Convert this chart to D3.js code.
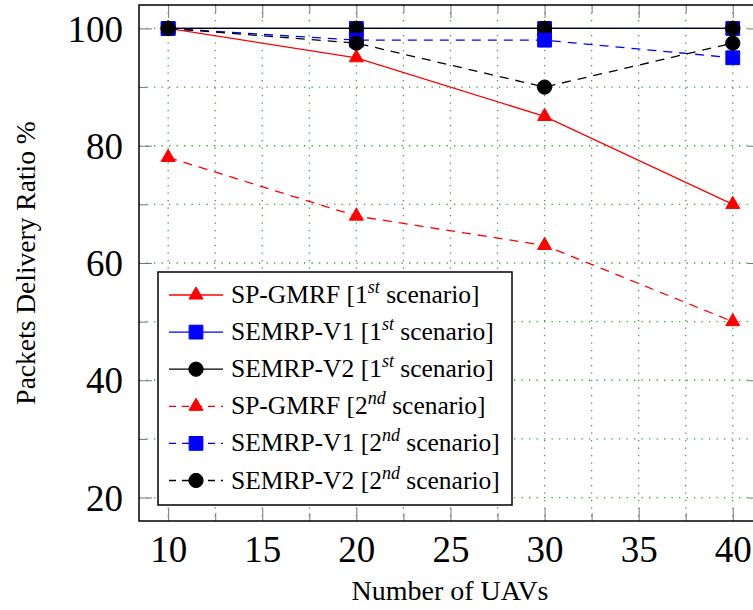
<!DOCTYPE html>
<html>
<head>
<meta charset="utf-8">
<script src="https://cdnjs.cloudflare.com/ajax/libs/d3/7.8.5/d3.min.js"></script>
<style>
  body { margin: 0; background: #fff; }
</style>
</head>
<body>
<div id="chart"></div>
<script>
// data
var uavs = [10, 20, 30, 40];
var spGmrf1 = [100, 95, 85, 70];
var semrpV1a = [100, 100, 100, 100];
var semrpV2a = [100, 100, 100, 100];
var spGmrf2 = [78, 68, 63, 50];
var semrpV1b = [100, 98, 98, 95];
var semrpV2b = [100, 97.5, 90, 97.5];

var seriesNames = ['SP-GMRF', 'SEMRP-V1', 'SEMRP-V2', 'SP-GMRF', 'SEMRP-V1', 'SEMRP-V2'];
var seriesScen = ['1', '1', '1', '2', '2', '2'];
var seriesSup = ['st', 'st', 'st', 'nd', 'nd', 'nd'];

var xTicks = [10, 15, 20, 25, 30, 35, 40];
var xMinor = [12.5, 17.5, 22.5, 27.5, 32.5, 37.5];
var yTicks = [20, 40, 60, 80, 100];
var yMinor = [30, 50, 70, 90];

(function(){
  var W = 753, H = 610;
  var pLeft = 139, pRight = 761, pTop = 5, pBottom = 521;
  var FONT = 'Liberation Serif';

  var svg = d3.select('#chart').append('svg')
              .attr('width', W)
              .attr('height', H)
              .attr('font-family', FONT);

  var x = d3.scaleLinear().domain([8.45, 41.5]).range([pLeft, pRight]);
  var y = d3.scaleLinear().domain([16, 104]).range([pBottom, pTop]);

  // dotted green grid
  var grid = svg.append('g');
  grid.selectAll('.gx')
      .data(xTicks.concat(xMinor))
      .enter().append('line')
      .attr('x1', function(d){ return x(d); })
      .attr('x2', function(d){ return x(d); })
      .attr('y1', pTop)
      .attr('y2', pBottom)
      .attr('stroke', '#35a035')
      .attr('stroke-width', 1.3)
      .attr('stroke-dasharray', '1.3,6.2');
  grid.selectAll('.gy')
      .data(yTicks.concat(yMinor))
      .enter().append('line')
      .attr('x1', pLeft)
      .attr('x2', pRight)
      .attr('y1', function(d){ return y(d); })
      .attr('y2', function(d){ return y(d); })
      .attr('stroke', '#35a035')
      .attr('stroke-width', 1.3)
      .attr('stroke-dasharray', '1.3,6.2');

  // axes, ticks drawn inward on all four sides
  var axB = svg.append('g').attr('transform', 'translate(0,' + pBottom + ')')
               .call(d3.axisBottom(x).tickValues(xTicks).tickSize(-13).tickPadding(15));
  var axT = svg.append('g').attr('transform', 'translate(0,' + pTop + ')')
               .call(d3.axisTop(x).tickValues(xTicks).tickSize(-13).tickFormat(''));
  var axL = svg.append('g').attr('transform', 'translate(' + pLeft + ',0)')
               .call(d3.axisLeft(y).tickValues(yTicks).tickSize(-13).tickPadding(16));
  var axR = svg.append('g').attr('transform', 'translate(' + pRight + ',0)')
               .call(d3.axisRight(y).tickValues(yTicks).tickSize(-13).tickFormat(''));
  var axB2 = svg.append('g').attr('transform', 'translate(0,' + pBottom + ')')
               .call(d3.axisBottom(x).tickValues(xMinor).tickSize(-8).tickFormat(''));
  var axT2 = svg.append('g').attr('transform', 'translate(0,' + pTop + ')')
               .call(d3.axisTop(x).tickValues(xMinor).tickSize(-8).tickFormat(''));
  var axL2 = svg.append('g').attr('transform', 'translate(' + pLeft + ',0)')
               .call(d3.axisLeft(y).tickValues(yMinor).tickSize(-8).tickFormat(''));
  var axR2 = svg.append('g').attr('transform', 'translate(' + pRight + ',0)')
               .call(d3.axisRight(y).tickValues(yMinor).tickSize(-8).tickFormat(''));

  [axB, axT, axL, axR, axB2, axT2, axL2, axR2].forEach(function(a){
    a.attr('font-family', FONT).attr('font-size', 37);
    a.select('.domain').remove();
    a.selectAll('.tick line').attr('stroke', '#777').attr('stroke-width', 1);
    a.selectAll('.tick text')
     .attr('font-family', FONT)
     .attr('font-size', 37)
     .attr('fill', '#000');
  });
  axL.selectAll('.tick text').attr('dy', '0.34em');

  svg.append('rect')
     .attr('x', pLeft).attr('y', pTop)
     .attr('width', pRight - pLeft).attr('height', pBottom - pTop)
     .attr('fill', 'none')
     .attr('stroke', '#000')
     .attr('stroke-width', 1.5);

  // series
  var allSeries = [spGmrf1, semrpV1a, semrpV2a, spGmrf2, semrpV1b, semrpV2b];
  var colors = ['#ff0000', '#0000ff', '#000000', '#ff0000', '#0000ff', '#000000'];
  var dashes = [null, null, null, '9,7', '9,7', '9,7'];
  var symbols = [d3.symbolTriangle, d3.symbolSquare, d3.symbolCircle,
                 d3.symbolTriangle, d3.symbolSquare, d3.symbolCircle];
  var symSizes = [85, 190, 160, 85, 190, 160];

  var line = d3.line()
               .x(function(d, i){ return x(uavs[i]); })
               .y(function(d){ return y(d); });

  var plot = svg.append('g');
  allSeries.forEach(function(s, k){
    var g = plot.append('g');
    g.append('path')
     .attr('d', line(s))
     .attr('fill', 'none')
     .attr('stroke', colors[k])
     .attr('stroke-width', 1.3)
     .attr('stroke-dasharray', dashes[k]);
    g.selectAll('path.m')
     .data(s)
     .enter().append('path')
     .attr('class', 'm')
     .attr('transform', function(d, i){ return 'translate(' + x(uavs[i]) + ',' + y(d) + ')'; })
     .attr('d', d3.symbol().type(symbols[k]).size(symSizes[k]))
     .attr('fill', colors[k])
     .attr('stroke', colors[k])
     .attr('stroke-width', 1);
  });

  // legend
  var lg = svg.append('g');
  lg.append('rect')
    .attr('x', 158).attr('y', 272)
    .attr('width', 354).attr('height', 233)
    .attr('fill', '#fff')
    .attr('stroke', '#000')
    .attr('stroke-width', 1.5);

  seriesNames.forEach(function(name, k){
    var ry = 295 + k * 37.1;
    lg.append('line')
      .attr('x1', 169).attr('x2', 223)
      .attr('y1', ry).attr('y2', ry)
      .attr('stroke', colors[k])
      .attr('stroke-width', 1.3)
      .attr('stroke-dasharray', dashes[k] ? '7,6' : null);
    lg.append('path')
      .attr('transform', 'translate(196,' + ry + ')')
      .attr('d', d3.symbol().type(symbols[k]).size(symSizes[k]))
      .attr('fill', colors[k])
      .attr('stroke', colors[k]);
    var t = lg.append('text')
      .attr('x', 231)
      .attr('y', ry + 8)
      .attr('font-family', FONT)
      .attr('font-size', 25.5);
    t.append('tspan').text(name + ' [' + seriesScen[k]);
    t.append('tspan')
     .attr('dy', -10)
     .attr('font-size', 18)
     .attr('font-style', 'italic')
     .text(seriesSup[k]);
    t.append('tspan')
     .attr('dy', 10)
     .text(' scenario]');
  });

  // axis titles
  svg.append('text')
     .attr('x', 450)
     .attr('y', 600)
     .attr('text-anchor', 'middle')
     .attr('font-family', FONT)
     .attr('font-size', 28)
     .text('Number of UAVs');

  svg.append('text')
     .attr('transform', 'translate(35,' + ((pTop + pBottom) / 2) + ') rotate(-90)')
     .attr('text-anchor', 'middle')
     .attr('font-family', FONT)
     .attr('font-size', 27.5)
     .text('Packets Delivery Ratio %');
})();
</script>
</body>
</html>
